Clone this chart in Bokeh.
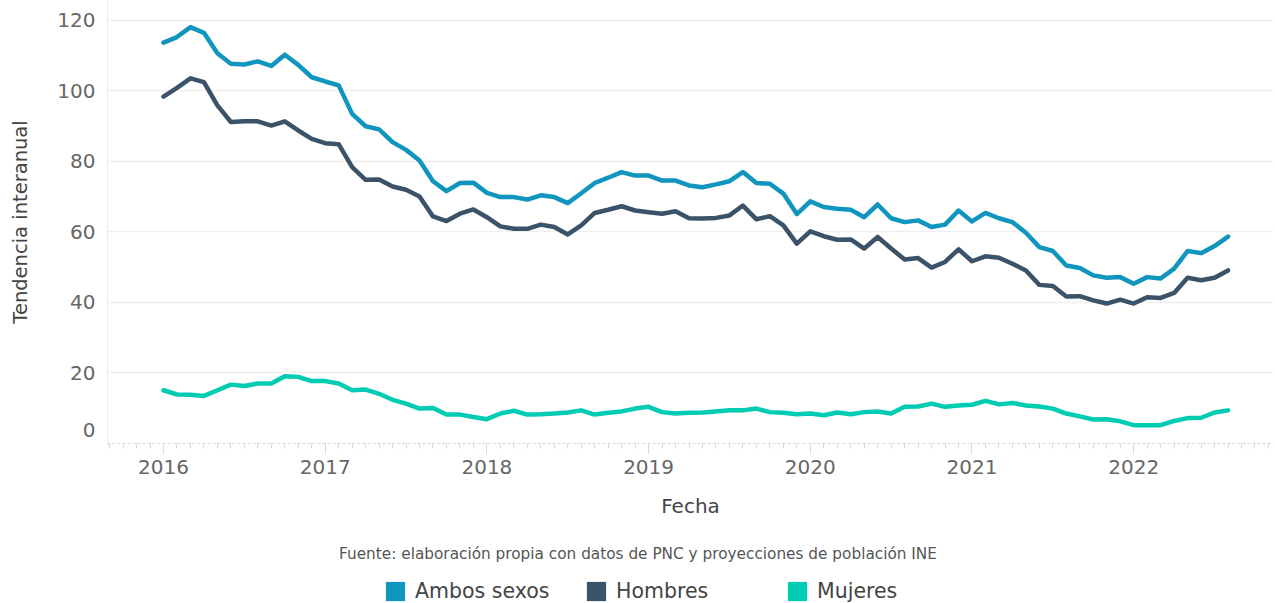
from bokeh.plotting import figure
from bokeh.layouts import column
from bokeh.models import FixedTicker, Label, Legend, LegendItem, Range1d
from bokeh.embed import file_html
from bokeh.resources import INLINE

# ---- data (monthly, Jan 2016 - Aug 2022) ----
fechas = [f"{y}-{m:02d}" for y in range(2016, 2023) for m in range(1, 13)][:80]

ambos = [113.7, 115.3, 118.1, 116.5, 110.7, 107.7, 107.5, 108.4, 107.1, 110.3,
         107.4, 103.9, 102.7, 101.6, 93.5, 90.0, 89.1, 85.5, 83.3, 80.3,
         74.4, 71.6, 73.9, 74.0, 71.1, 69.9, 69.9, 69.2, 70.4, 69.9,
         68.2, 71.0, 73.9, 75.4, 77.0, 76.0, 76.0, 74.6, 74.6, 73.2,
         72.7, 73.5, 74.4, 77.0, 73.9, 73.7, 70.9, 65.1, 68.7, 67.1,
         66.6, 66.3, 64.2, 67.8, 63.9, 62.8, 63.3, 61.4, 62.1, 66.1,
         63.0, 65.4, 63.9, 62.8, 59.8, 55.7, 54.6, 50.5, 49.8, 47.7,
         47.0, 47.2, 45.3, 47.2, 46.8, 49.6, 54.6, 54.0, 56.0, 58.7]

hombres = [98.4, 100.9, 103.6, 102.5, 95.9, 91.2, 91.4, 91.4, 90.2, 91.4,
           88.8, 86.4, 85.2, 84.9, 78.4, 74.8, 74.9, 72.9, 72.0, 70.1,
           64.4, 63.1, 65.2, 66.4, 64.2, 61.6, 60.9, 60.9, 62.1, 61.4,
           59.3, 61.9, 65.4, 66.3, 67.3, 66.1, 65.6, 65.2, 65.9, 63.9,
           63.8, 64.0, 64.7, 67.5, 63.6, 64.5, 61.9, 56.7, 60.2, 58.8,
           57.8, 57.9, 55.3, 58.6, 55.3, 52.2, 52.6, 49.9, 51.5, 55.1,
           51.7, 53.1, 52.7, 51.0, 49.1, 45.0, 44.7, 41.7, 41.8, 40.6,
           39.7, 40.8, 39.7, 41.5, 41.3, 42.7, 47.0, 46.3, 47.0, 49.1]

mujeres = [15.1, 13.9, 13.8, 13.5, 15.1, 16.7, 16.3, 17.0, 17.0, 19.1,
           18.9, 17.7, 17.7, 17.0, 15.1, 15.3, 14.1, 12.4, 11.3, 9.9,
           10.1, 8.2, 8.2, 7.5, 6.9, 8.5, 9.3, 8.2, 8.3, 8.5,
           8.8, 9.4, 8.2, 8.7, 9.1, 9.9, 10.4, 8.9, 8.5, 8.7,
           8.8, 9.1, 9.4, 9.4, 9.9, 8.9, 8.7, 8.3, 8.5, 8.0,
           8.8, 8.3, 8.9, 9.1, 8.5, 10.4, 10.5, 11.3, 10.4, 10.8,
           11.0, 12.1, 11.1, 11.5, 10.8, 10.5, 9.9, 8.5, 7.7, 6.8,
           6.9, 6.3, 5.2, 5.2, 5.2, 6.4, 7.2, 7.3, 8.8, 9.4]

series = ["Ambos sexos", "Hombres", "Mujeres"]
colores = ["#0f95be", "#3b5368", "#00cbb3"]
anios = [2016, 2017, 2018, 2019, 2020, 2021, 2022]
grid_ticks = [20, 40, 60, 80, 100, 120]
# tick positions / labels of the y axis (the "0" label sits a little above the baseline)
y_tick_pos = [3.7, 20, 40, 60, 80, 100, 120]
y_tick_txt = ["0", "20", "40", "60", "80", "100", "120"]
fuente = "Fuente: elaboración propia con datos de PNC y proyecciones de población INE"

x = [int(f[:4]) + (int(f[5:]) - 1) / 12 for f in fechas]

FONT = "DejaVu Sans"
W = 1273
LEFT = 107
FW = W - LEFT

p = figure(width=W, height=525, output_backend="svg", toolbar_location=None,
           x_range=Range1d(2015.6537, 2015.6537 + FW / 161.7), y_range=Range1d(0, 125.67),
           min_border_left=LEFT, min_border_right=0, min_border_top=0,
           min_border_bottom=82)
p.outline_line_color = None

# x axis
minor = [2015 + k / 12 for k in range(8, 12 * 8) if 2015.66 <= 2015 + k / 12 <= 2022.86]
p.xaxis.ticker = FixedTicker(ticks=anios, minor_ticks=minor)
p.xaxis.axis_line_color = "#d9d9d9"
p.xaxis.axis_line_dash = "3 2"
p.xaxis.major_tick_line_color = "#d9d9d9"
p.xaxis.minor_tick_line_color = "#d9d9d9"
p.xaxis.major_tick_out = 10
p.xaxis.major_tick_in = 0
p.xaxis.minor_tick_out = 5
p.xaxis.minor_tick_in = 0
p.xaxis.major_label_standoff = 6
p.xaxis.major_label_text_font = FONT
p.xaxis.major_label_text_font_size = "20px"
p.xaxis.major_label_text_color = "#666666"
p.xaxis.axis_label = "Fecha"
p.xaxis.axis_label_text_font = FONT
p.xaxis.axis_label_text_font_size = "20px"
p.xaxis.axis_label_text_font_style = "normal"
p.xaxis.axis_label_text_color = "#444444"
p.xaxis.axis_label_standoff = 17
p.xgrid.grid_line_color = None

# y axis
p.yaxis.ticker = FixedTicker(ticks=y_tick_pos)
p.yaxis.major_label_overrides = dict(zip(y_tick_pos, y_tick_txt))
p.yaxis.axis_line_color = "#ebebeb"
p.yaxis.major_tick_line_color = None
p.yaxis.minor_tick_line_color = None
p.yaxis.major_tick_out = 0
p.yaxis.major_tick_in = 0
p.yaxis.major_label_standoff = 12
p.yaxis.major_label_text_font = FONT
p.yaxis.major_label_text_font_size = "20px"
p.yaxis.major_label_text_color = "#666666"
p.yaxis.axis_label = "Tendencia interanual"
p.yaxis.axis_label_text_font = FONT
p.yaxis.axis_label_text_font_size = "19.5px"
p.yaxis.axis_label_text_font_style = "normal"
p.yaxis.axis_label_text_color = "#444444"
p.yaxis.axis_label_standoff = 22
p.ygrid.ticker = FixedTicker(ticks=grid_ticks)
p.ygrid.grid_line_color = "#efefef"
p.ygrid.grid_line_width = 1.5

# lines
for vals, col in zip([ambos, hombres, mujeres], colores):
    p.line(x, vals, line_width=4.5, color=col, line_join="round", line_cap="round")

# ---- footer: source caption + legend ----
q = figure(width=W, height=78, output_backend="svg", toolbar_location=None,
           x_range=Range1d(0, FW), y_range=Range1d(0, 78),
           x_axis_location=None, y_axis_location=None,
           min_border_left=LEFT, min_border_right=0, min_border_top=0, min_border_bottom=0)
q.outline_line_color = None
q.grid.grid_line_color = None

q.add_layout(Label(x=637.5 - LEFT, y=50, text=fuente, text_align="center",
                   text_baseline="middle", text_font=FONT, text_font_size="15.3px",
                   text_color="#555555"))

items = []
for name, col in zip(series, colores):
    r = q.quad(left=[0], right=[1], top=[1], bottom=[0], fill_color=col,
               line_color=None, visible=False)
    items.append(LegendItem(label=name, renderers=[r]))

legend = Legend(items=items, orientation="horizontal", location=(383 - LEFT, 0),
                glyph_width=24, glyph_height=24, label_standoff=8, label_width=160,
                label_height=24, spacing=9, padding=0, margin=0,
                border_line_color=None, background_fill_alpha=0,
                inactive_fill_alpha=0,
                label_text_font=FONT, label_text_font_size="20.5px",
                label_text_color="#444444", label_text_baseline="middle")
q.add_layout(legend, "center")

layout = column(p, q, spacing=0)
open("out.html", "w").write(file_html(layout, INLINE))
